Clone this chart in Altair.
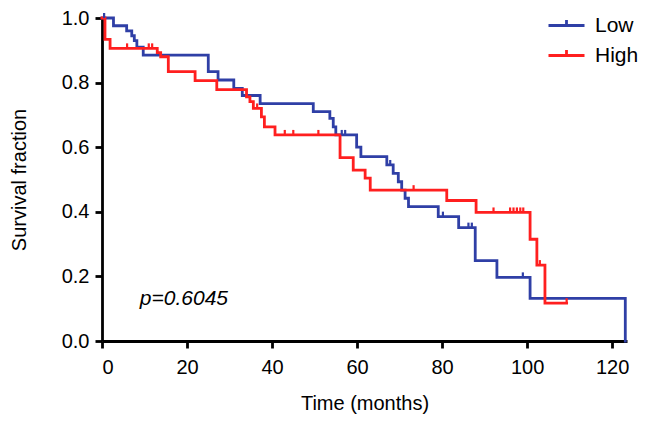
import altair as alt
import pandas as pd

# Kaplan-Meier step points (time in months, survival fraction)
low_t = [0, 2.7, 5.8, 7.0, 7.6, 8.2, 9.7, 25.0, 27.3, 31.0, 33.0, 37.2, 49.7, 53.6, 54.4, 55.0,
         59.9, 60.9, 67.0, 68.5, 69.7, 70.5, 71.3, 72.1, 79.1, 83.9, 87.8, 92.9, 100.7, 123.1]
low_s = [1.0, 0.976, 0.96, 0.945, 0.93, 0.91, 0.885, 0.834, 0.808, 0.782, 0.76, 0.735, 0.71, 0.689, 0.663, 0.638,
         0.60, 0.571, 0.545, 0.519, 0.493, 0.467, 0.442, 0.416, 0.385, 0.351, 0.249, 0.197, 0.132, 0.0]

high_t = [0, 0.7, 1.9, 13.0, 13.8, 15.6, 21.9, 27.0, 34.0, 34.8, 35.6, 37.5, 38.2, 40.7, 56.0,
          59.1, 61.9, 63.1, 81.1, 88.0, 100.7, 102.3, 104.2, 109.3]
high_s = [1.0, 0.934, 0.906, 0.893, 0.88, 0.834, 0.806, 0.778, 0.756, 0.741, 0.72, 0.694, 0.663, 0.638, 0.568,
          0.529, 0.504, 0.467, 0.435, 0.398, 0.315, 0.235, 0.117, 0.117]

# censored observations
low_ct = [0.5, 56.4, 57.2, 67.8, 80.2, 86.2, 87.0, 99.0]
low_cs = [1.0, 0.638, 0.638, 0.545, 0.385, 0.351, 0.351, 0.197]
high_ct = [5.9, 11.0, 11.8, 36.5, 43.0, 45.0, 50.9, 73.3, 92.1, 96.0, 96.8, 97.6, 98.4, 99.1, 103.0, 109.3]
high_cs = [0.906, 0.906, 0.906, 0.72, 0.638, 0.638, 0.638, 0.467, 0.398, 0.398, 0.398, 0.398, 0.398, 0.398, 0.235, 0.117]

groups = ["Low", "High"]
colors = ["#2f3fa6", "#ff1f1f"]
p_text = "p=0.6045"

curves = pd.concat([
    pd.DataFrame({"t": low_t, "s": low_s, "g": "Low", "o": range(len(low_t))}),
    pd.DataFrame({"t": high_t, "s": high_s, "g": "High", "o": range(len(high_t))}),
])
cens = pd.concat([
    pd.DataFrame({"t": low_ct, "s": low_cs, "g": "Low"}),
    pd.DataFrame({"t": high_ct, "s": high_cs, "g": "High"}),
])

FONT = "Liberation Sans"

xs = alt.Scale(domain=[0, 123.5], nice=False, zero=False)
ys = alt.Scale(domain=[0, 1.0], nice=False)
cs = alt.Scale(domain=groups, range=colors)

lines = alt.Chart(curves).mark_line(interpolate="step-after", strokeWidth=2.8, strokeCap="square").encode(
    x=alt.X("t:Q", scale=xs, title="Time (months)",
            axis=alt.Axis(values=[0, 20, 40, 60, 80, 100, 120], format="d")),
    y=alt.Y("s:Q", scale=ys, title="Survival fraction",
            axis=alt.Axis(values=[0, 0.2, 0.4, 0.6, 0.8, 1.0], format=".1f")),
    color=alt.Color("g:N", scale=cs, sort=groups,
                    legend=alt.Legend(title=None, orient="none", legendX=445, legendY=-12,
                                      symbolType="M-1,0H1M0,0V-0.3", symbolSize=1296,
                                      symbolStrokeWidth=2.8, labelFontSize=21, labelFont=FONT,
                                      labelOffset=9, padding=0, rowPadding=0,
                                      symbolFillColor="transparent")),
    order="o:Q",
)

ticks = alt.Chart(cens).mark_point(shape="M0,0V-1", size=100, filled=False, strokeWidth=2.2, opacity=1).encode(
    x=alt.X("t:Q", scale=xs),
    y=alt.Y("s:Q", scale=ys),
    color=alt.Color("g:N", scale=cs, legend=None),
)

ptxt = alt.Chart(pd.DataFrame({"t": [8.9], "s": [0.13], "label": [p_text]})).mark_text(
    align="left", baseline="middle", fontSize=21, fontStyle="italic", font=FONT, color="black"
).encode(x=alt.X("t:Q", scale=xs), y=alt.Y("s:Q", scale=ys), text="label:N")

chart = alt.layer(lines, ticks, ptxt).properties(
    width=525, height=323,
    autosize=alt.AutoSizeParams(type="none"),
    padding={"left": 94, "top": 10, "right": 11, "bottom": 75},
).configure_view(stroke=None).configure_axis(
    grid=False, domainColor="black", domainWidth=2.8, tickColor="black", tickWidth=2.8, tickSize=7,
    labelFont=FONT, labelFontSize=20, labelColor="black", titleFont=FONT, titleFontSize=20,
    titleFontWeight="normal", titleColor="black",
).configure_axisX(labelPadding=9, titlePadding=16).configure_axisY(labelPadding=6, titlePadding=32)

chart.save("out.html", embed_options={"renderer": "svg", "actions": False})
